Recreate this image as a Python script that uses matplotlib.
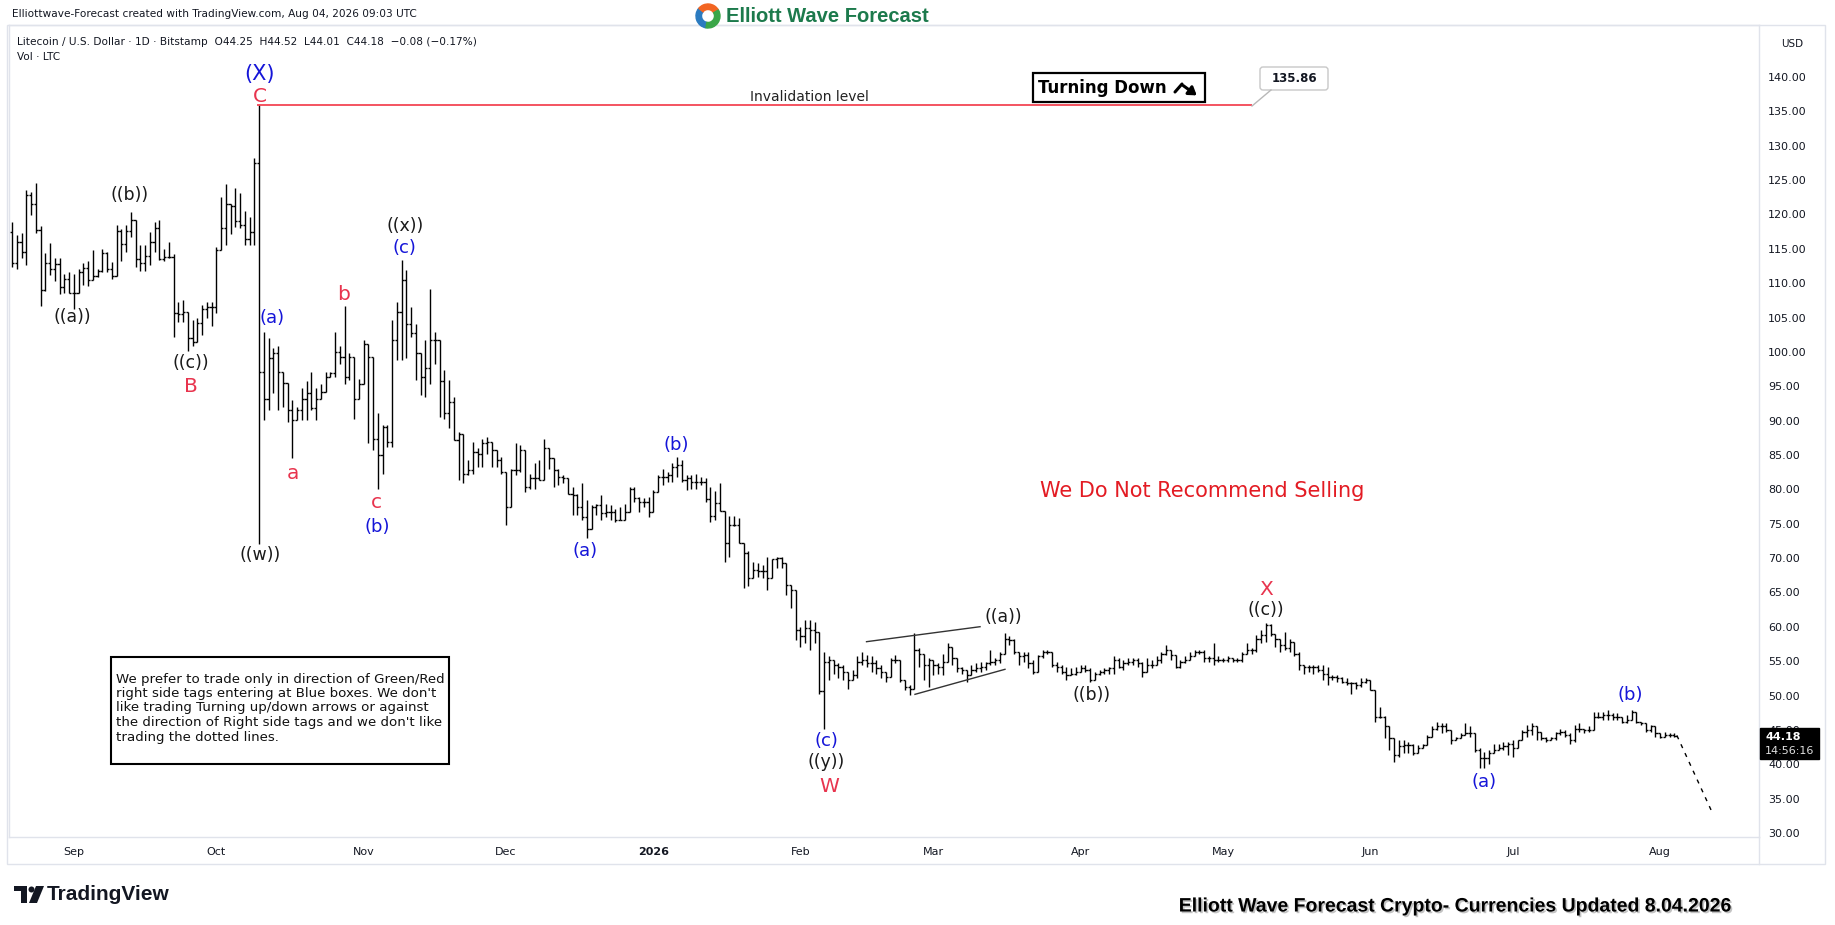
import numpy as np
import pandas as pd
import matplotlib
matplotlib.use("Agg")
import matplotlib.pyplot as plt
import matplotlib.dates as mdates
from matplotlib.patches import Rectangle, FancyBboxPatch, Wedge, Polygon, Circle
import matplotlib.patheffects as pe

W, H = 1835, 925
start_date = "2025-08-19"

# ---------------- daily LTC/USD bars ----------------
highs = [
    118.9, 117.0, 117.3, 123.6, 123.3, 124.6, 118.3, 114.4, 115.8, 113.7,
    113.6, 111.3, 111.7, 111.3, 112.0, 112.9, 113.2, 114.8, 112.1, 115.0,
    114.6, 113.1, 118.4, 117.9, 118.4, 120.4, 119.2, 115.5, 115.6, 117.5,
    118.9, 119.2, 115.0, 116.0, 114.3, 107.3, 107.5, 105.6, 104.6, 104.9,
    106.8, 107.3, 107.3, 115.2, 122.6, 124.5, 121.2, 123.8, 123.1,
    120.5, 119.7, 128.2, 135.86,
    102.9, 102.0, 100.5, 100.8, 96.9, 93.0, 93.0, 92.0, 94.7, 95.7,
    97.1, 94.8, 95.4, 97.1, 97.1, 102.9, 100.8, 106.7, 99.8, 95.9,
    96.1, 101.8, 99.8, 91.5, 91.1, 89.4, 89.4, 104.6, 107.3, 113.4,
    111.9, 106.6, 104.1, 97.6, 101.7, 109.2, 102.9, 97.6, 97.4, 95.9,
    93.5, 88.4,
    83.8, 84.3, 86.9, 86.0, 87.4, 87.6, 86.7, 84.5, 84.7, 82.3,
    83.0, 86.7, 86.4, 84.3, 82.3, 83.8, 84.3, 87.4, 86.0, 84.3,
    83.0, 82.1, 81.3, 80.4, 79.4, 80.9, 78.4, 77.7, 77.9, 79.2,
    77.9, 77.7, 77.2, 77.5, 77.9, 80.4, 80.4, 78.9, 78.7, 78.9,
    79.9, 82.1, 83.0, 82.6, 83.8, 84.7, 84.3, 82.1, 82.1, 82.3, 81.8,
    81.6, 80.4, 79.7, 80.9, 76.8, 76.1, 76.1, 75.8, 72.2, 71.0,
    69.5, 69.3, 69.0, 70.2, 69.8, 70.2, 70.2, 69.3, 66.1, 65.4,
    60.0, 61.0, 61.0, 60.7, 59.1,
    56.4, 55.7, 54.9, 54.7, 54.4, 53.5, 53.7, 55.7, 56.4, 55.9,
    55.7, 55.2, 54.4, 53.2, 55.4, 55.9, 54.9, 52.3, 51.5, 59.1,
    56.9, 55.4, 55.4, 55.2, 54.7, 56.1, 57.6, 56.6, 55.2, 54.2,
    53.7, 54.4, 54.7, 54.9, 54.9, 56.6, 55.4, 56.4, 59.1, 58.6,
    58.3, 56.4, 56.4, 56.4, 55.2, 55.9, 56.6, 56.6,
    56.4, 54.9, 54.4, 54.2, 54.0, 54.2, 54.4, 54.4, 54.0, 53.5,
    53.7, 54.0, 54.2, 55.7, 55.4, 55.2, 55.4, 55.4, 55.4, 54.9,
    55.4, 55.2, 55.7, 56.4, 57.4, 56.6, 55.9, 55.2, 55.7, 56.4,
    56.6, 56.6, 56.6, 55.7, 57.6, 55.7, 55.4, 55.7, 55.4, 55.4,
    56.4, 57.6, 56.9, 58.8,
    59.5, 60.5, 60.4, 58.6, 58.3, 59.3, 58.3, 57.4, 56.4, 54.4,
    54.4, 54.4, 54.4, 54.4, 54.2, 53.0, 53.0, 52.7, 52.5, 52.0,
    52.0, 52.5, 52.5, 52.3,
    50.8, 48.4, 47.0, 45.5, 43.8, 43.5, 43.5, 43.3, 43.0, 42.8,
    43.0, 44.3, 45.5, 46.2, 46.0, 46.0, 45.0, 44.0, 44.5, 46.0,
    45.5, 44.5, 42.3, 41.8, 42.1, 43.0, 43.0, 43.3, 43.3, 43.5,
    43.5, 45.0, 45.7, 46.0, 45.5, 44.7, 44.0, 44.0, 44.7, 45.2,
    45.0, 44.5, 45.7, 46.0, 45.2, 45.5, 47.6, 47.6, 47.6, 47.9,
    47.4, 47.4, 46.9, 47.2, 47.9, 47.6, 46.2, 45.7, 45.7, 45.2,
    44.5, 44.7, 44.5, 44.52,
]
lows = [
    112.4, 112.0, 113.7, 112.6, 119.9, 117.3, 106.7, 108.9, 111.2, 110.3,
    108.4, 108.6, 108.6, 106.3, 108.9, 109.8, 109.6, 110.8, 110.9, 111.6,
    111.6, 110.6, 111.6, 113.2, 114.6, 116.7, 112.3, 111.8, 111.8, 112.6,
    114.6, 113.4, 113.3, 113.6, 102.2, 104.4, 104.4, 100.1, 100.9, 103.0,
    102.5, 104.9, 103.7, 105.6, 114.9, 115.5, 117.1, 118.2, 118.0,
    115.5, 115.6, 115.6, 72.0,
    90.1, 91.5, 94.0, 91.5, 92.0, 89.8, 84.5, 90.1, 90.1, 90.1,
    91.5, 90.1, 94.0, 95.4, 96.4, 96.4, 98.3, 95.4, 95.9, 90.3,
    93.2, 95.4, 86.7, 85.7, 80.1, 82.3, 86.2, 86.2, 98.8, 98.8,
    99.1, 102.2, 95.9, 93.7, 93.5, 95.4, 98.3, 90.6, 90.3, 88.9,
    87.2, 81.4,
    80.9, 82.1, 82.3, 83.3, 83.3, 85.2, 83.3, 83.3, 82.3, 74.8,
    77.5, 82.1, 82.6, 79.6, 80.1, 80.1, 81.3, 82.3, 83.0, 80.4,
    80.6, 80.9, 79.4, 76.2, 76.2, 75.5, 72.9, 75.0, 76.2, 75.5,
    76.0, 75.5, 75.3, 75.5, 75.5, 77.0, 78.2, 76.7, 77.5, 76.0,
    76.7, 79.6, 80.6, 81.1, 81.1, 81.8, 81.1, 79.9, 80.1, 80.1, 80.6,
    78.2, 75.3, 75.6, 76.8, 69.5, 70.2, 74.6, 72.2, 65.6, 65.9,
    67.1, 67.3, 67.1, 65.4, 67.8, 68.5, 68.5, 64.7, 62.7, 58.1,
    57.1, 57.6, 56.6, 57.6, 50.3,
    45.2, 52.3, 53.2, 52.5, 52.3, 51.0, 52.3, 52.5, 54.4, 54.2,
    53.5, 53.2, 52.5, 52.0, 52.7, 54.7, 52.0, 50.8, 50.1, 51.0,
    54.2, 52.3, 51.3, 53.0, 53.2, 53.0, 55.2, 54.4, 53.5, 53.2,
    52.0, 53.0, 53.5, 53.5, 53.7, 54.4, 54.4, 54.7, 56.1, 57.4,
    56.1, 54.4, 54.9, 54.0, 53.2, 54.4, 55.4, 56.1,
    54.2, 53.5, 53.2, 52.3, 53.0, 53.0, 53.5, 53.5, 52.0, 52.3,
    53.0, 53.2, 53.2, 53.2, 54.0, 53.7, 54.4, 54.4, 54.2, 52.7,
    54.0, 54.0, 54.4, 54.7, 55.9, 55.2, 54.0, 54.0, 54.7, 55.2,
    55.9, 56.1, 54.9, 54.9, 54.4, 54.9, 54.9, 54.9, 54.9, 54.9,
    54.9, 56.1, 56.1, 56.4,
    57.6, 57.8, 58.7, 57.1, 56.4, 56.6, 56.4, 55.7, 53.7, 53.2,
    53.5, 53.2, 53.5, 52.3, 51.5, 52.3, 52.0, 51.8, 51.5, 50.3,
    51.0, 51.3, 51.8, 50.8,
    46.2, 46.7, 43.8, 42.1, 40.4, 41.1, 41.6, 41.6, 41.4, 41.8,
    42.3, 42.8, 44.0, 45.0, 44.5, 44.7, 43.0, 43.5, 43.8, 44.3,
    44.0, 41.8, 39.4, 39.4, 40.1, 41.8, 42.1, 42.1, 41.4, 41.1,
    43.0, 43.5, 44.0, 44.3, 43.5, 43.5, 43.3, 43.5, 43.5, 44.3,
    44.0, 43.0, 43.3, 44.7, 44.5, 44.7, 45.0, 46.7, 46.4, 46.4,
    46.4, 46.4, 46.0, 46.0, 46.4, 46.0, 45.7, 44.7, 44.7, 44.0,
    43.8, 44.0, 44.0, 44.01,
]
closes = [
    113.0, 116.0, 114.5, 122.8, 121.5, 117.8, 109.0, 113.0, 112.0, 112.8,
    109.4, 110.6, 108.6, 108.6, 111.6, 112.2, 110.5, 111.0, 111.8, 114.4,
    112.0, 111.1, 117.6, 115.7, 117.6, 119.2, 113.5, 113.0, 114.0, 116.0,
    118.0, 113.5, 113.8, 113.8, 105.6, 105.5, 105.8, 102.0, 101.5, 104.2,
    106.2, 106.5, 106.6, 114.8, 118.0, 121.5, 121.2, 119.0, 118.5,
    116.5, 117.5, 127.5, 97.1,
    93.2, 99.1, 99.8, 97.1, 95.5, 91.5, 90.1, 91.6, 93.2, 94.0,
    91.8, 93.2, 94.1, 96.4, 96.9, 100.0, 99.3, 96.4, 99.3, 93.2,
    95.4, 101.2, 99.3, 87.4, 85.0, 89.1, 86.9, 101.7, 105.8, 110.5,
    104.1, 102.7, 99.8, 96.4, 97.6, 101.7, 101.7, 95.7, 91.1, 92.7,
    87.2, 88.1,
    82.3, 82.8, 85.5, 85.2, 86.7, 86.9, 85.7, 84.3, 82.6, 77.5,
    82.8, 82.8, 85.7, 80.4, 81.6, 81.6, 81.3, 86.0, 84.5, 82.8,
    81.8, 81.6, 79.4, 79.2, 77.5, 76.0, 74.3, 77.5, 77.7, 76.5,
    76.7, 76.7, 75.5, 75.5, 76.7, 80.1, 78.7, 78.2, 78.2, 76.7,
    79.6, 81.8, 81.8, 82.1, 83.3, 83.5, 81.3, 81.6, 81.1, 81.1, 81.1,
    78.6, 76.1, 78.0, 76.8, 72.2, 74.8, 74.8, 72.2, 70.7, 67.1,
    68.3, 68.1, 68.1, 67.1, 69.8, 70.0, 69.3, 66.1, 65.4, 59.6,
    58.6, 59.8, 59.5, 59.3, 50.6,
    54.9, 55.2, 54.4, 54.2, 53.5, 52.3, 53.0, 54.9, 55.2, 54.7,
    54.7, 54.0, 53.5, 52.7, 55.2, 55.2, 52.3, 51.3, 51.0, 56.6,
    56.1, 54.4, 55.2, 54.4, 54.2, 54.9, 57.1, 55.4, 54.0, 53.7,
    53.0, 53.7, 54.0, 54.2, 54.7, 54.9, 55.2, 56.1, 58.3, 58.1,
    56.4, 55.7, 55.9, 54.7, 53.5, 55.7, 56.4, 56.4,
    54.4, 54.2, 53.5, 53.0, 53.2, 53.5, 54.0, 53.7, 52.3, 53.2,
    53.5, 53.7, 54.0, 55.2, 54.2, 54.7, 54.9, 55.2, 54.7, 53.5,
    54.4, 54.4, 55.2, 56.1, 56.6, 55.9, 54.2, 54.9, 55.2, 55.7,
    56.4, 56.4, 55.4, 55.4, 55.2, 55.2, 55.2, 55.4, 55.2, 55.2,
    56.1, 56.6, 56.6, 58.3,
    58.8, 60.3, 59.0, 58.3, 57.4, 56.9, 57.8, 56.1, 54.4, 54.2,
    54.2, 54.2, 53.7, 53.2, 52.7, 52.7, 52.5, 52.0, 51.8, 51.8,
    51.5, 52.0, 52.3, 50.8,
    46.9, 46.9, 45.5, 43.8, 41.4, 42.6, 42.8, 42.8, 41.6, 42.3,
    42.8, 44.0, 45.2, 45.5, 45.5, 45.0, 43.5, 43.8, 44.3, 44.5,
    44.5, 42.1, 40.9, 40.9, 41.6, 42.1, 42.3, 42.6, 43.0, 42.3,
    43.5, 44.7, 45.0, 45.5, 44.7, 43.8, 43.5, 43.8, 44.5, 44.7,
    44.3, 43.5, 45.2, 45.2, 45.0, 45.0, 46.9, 46.9, 47.2, 47.2,
    46.9, 46.9, 46.2, 46.4, 47.6, 46.2, 46.0, 45.0, 45.5, 44.5,
    44.0, 44.3, 44.3, 44.18,
]
first_open = 117.5
last_open = 44.25

invalidation_level = 135.86
price_ticks = list(range(30, 145, 5))
month_starts = pd.date_range("2025-09-01", "2026-08-01", freq="MS")
month_labels = ["Sep", "Oct", "Nov", "Dec", "2026", "Feb", "Mar", "Apr", "May", "Jun", "Jul", "Aug"]

# wave labels: (text, bar index, price, kind)
wave_labels = [
    ("(X)", 52.2, 140.4, "blueL"), ("C", 52.2, 137.1, "red"),
    ("((b))", 24.8, 122.8, "black"), ("((a))", 12.8, 105.1, "black"),
    ("((c))", 37.7, 98.4, "black"), ("B", 37.7, 94.9, "red"),
    ("(a)", 54.7, 104.9, "blue"), ("b", 69.9, 108.4, "red"),
    ("a", 59.2, 82.3, "red"), ("((x))", 82.7, 118.3, "black"),
    ("(c)", 82.7, 115.1, "blue"), ("c", 76.8, 78.1, "red"),
    ("(b)", 76.8, 74.5, "blue"), ("((w))", 52.2, 70.5, "black"),
    ("(b)", 139.8, 86.5, "blue"), ("(a)", 120.6, 71.0, "blue"),
    ("((a))", 208.6, 61.4, "black"), ("((b))", 227.2, 50.1, "black"),
    ("X", 264.0, 65.5, "red"), ("((c))", 264.0, 62.4, "black"),
    ("(c)", 171.4, 43.4, "blue"), ("((y))", 171.4, 40.3, "black"),
    ("W", 172.0, 36.8, "red"), ("(b)", 340.6, 50.1, "blue"),
    ("(a)", 309.9, 37.4, "blue"),
]
triangle_upper = [(179.9, 57.84), (203.8, 60.02)]
triangle_lower = [(190.1, 50.18), (209.05, 53.82)]
projection = [(350.5, 44.2), (357.7, 33.35)]

note_lines = [
    "We prefer to trade only in direction of Green/Red",
    "right side tags entering at Blue boxes. We don't",
    "like trading Turning up/down arrows or against",
    "the direction of Right side tags and we don't like",
    "trading the dotted lines.",
]

# ---------------- figure ----------------
fig = plt.figure(figsize=(W / 100, H / 100), dpi=100)
fig.patch.set_facecolor("white")

PANE_L, PANE_R, PANE_T, PANE_B = 9, 1759, 25, 837
ax = fig.add_axes([PANE_L / W, 1 - PANE_B / H, (PANE_R - PANE_L) / W, (PANE_B - PANE_T) / H])

dates = pd.date_range(start_date, periods=len(closes), freq="D")
x = mdates.date2num(dates)
x0 = x[0]
opens = np.array([first_open] + closes[:-2] + [last_open])
hi = np.array(highs)
lo = np.array(lows)
cl = np.array(closes)

ax.vlines(x, np.minimum(lo, opens), np.maximum(hi, opens), color="black", lw=1.0)
ax.hlines(opens, x - 0.45, x, color="black", lw=1.0)
ax.hlines(cl, x, x + 0.45, color="black", lw=1.0)

ax.set_xlim(x0 - 0.632, x0 + 367.79)
ax.set_ylim(140 - (PANE_B - 77) / 6.873, 140 + (77 - PANE_T) / 6.873)

# invalidation line
ax.hlines(invalidation_level, x0 + 51.6, x0 + 261.05, color="#f23645", lw=1.2)

# triangle lines
for seg in (triangle_upper, triangle_lower):
    ax.plot([x0 + seg[0][0], x0 + seg[1][0]], [seg[0][1], seg[1][1]], color="#333333", lw=1.0)

# projection dotted line
ax.plot([x0 + projection[0][0], x0 + projection[1][0]], [projection[0][1], projection[1][1]],
        color="black", lw=1.0, ls=(0, (3, 4)))

styles = {
    "black": dict(color="#1a1a1a", fontsize=12.5),
    "blue": dict(color="#1515d8", fontsize=13),
    "blueL": dict(color="#1515d8", fontsize=15),
    "red": dict(color="#e8344e", fontsize=14.5),
}
for txt, i, p, kind in wave_labels:
    ax.text(x0 + i, p, txt, ha="center", va="center", family="DejaVu Sans", **styles[kind])

# axes styling
for s in ax.spines.values():
    s.set_color("#e0e3eb")
    s.set_linewidth(1.0)
ax.yaxis.tick_right()
ax.set_yticks(price_ticks)
ax.set_yticklabels([f"{v:.2f}" for v in price_ticks])
ax.tick_params(axis="y", length=0, pad=6.5, labelsize=8, labelcolor="#131722")
ax.set_xticks(mdates.date2num(month_starts))
ax.set_xticklabels(month_labels)
ax.tick_params(axis="x", length=0, pad=7, labelsize=8, labelcolor="#131722")
for lbl in ax.get_xticklabels():
    if lbl.get_text() == "2026":
        lbl.set_fontweight("bold")

# ---------------- overlay in pixel coordinates ----------------
ov = fig.add_axes([0, 0, 1, 1])
ov.set_xlim(0, W)
ov.set_ylim(H, 0)
ov.axis("off")
ov.patch.set_alpha(0)

# frame
ov.add_patch(Rectangle((7, 25), 1825 - 7, 864 - 25, fill=False, ec="#e0e3eb", lw=1.0))
ov.plot([PANE_R, PANE_R], [PANE_B, 864], color="#e0e3eb", lw=1.0)

# header
ov.text(12, 14, "Elliottwave-Forecast created with TradingView.com, Aug 04, 2026 09:03 UTC",
        fontsize=7.6, color="#131722", va="center", ha="left")
ov.text(17, 42, "Litecoin / U.S. Dollar \u00b7 1D \u00b7 Bitstamp  O44.25  H44.52  L44.01  C44.18  \u22120.08 (\u22120.17%)",
        fontsize=7.6, color="#131722", va="center", ha="left")
ov.text(17, 57, "Vol \u00b7 LTC", fontsize=7.6, color="#131722", va="center", ha="left")
ov.text(1781, 44, "USD", fontsize=7.5, color="#131722", va="center", ha="left")

# Elliott Wave Forecast logo
cx, cy, r = 708, 16, 12
ov.add_patch(Wedge((cx, cy), r, 100, 220, width=5.5, color="#2b7bc0"))
ov.add_patch(Wedge((cx, cy), r, 220, 330, width=5.5, color="#f26522"))
ov.add_patch(Wedge((cx, cy), r, 330, 100, width=5.5, color="#3aa648"))
ov.text(726, 17, "Elliott Wave Forecast", fontsize=14.5, fontweight="bold", color="#1c7a4c",
        family="Liberation Sans", va="center", ha="left")

# invalidation texts
ov.text(809, 97, "Invalidation level", fontsize=10, color="#222222", ha="center", va="center")
ov.plot([1252, 1271], [106, 90], color="#b8b8b8", lw=1.0)
ov.add_patch(FancyBboxPatch((1260, 67), 68, 23, boxstyle="round,pad=0,rounding_size=3",
                            fc="white", ec="#c8c8c8", lw=1.0))
ov.text(1294, 78.5, "135.86", fontsize=8.5, fontweight="bold", color="#131722", ha="center", va="center")

# Turning Down box
ov.add_patch(Rectangle((1033, 73), 172, 29, fill=True, fc="white", ec="black", lw=1.6))
ov.text(1038, 88, "Turning Down", fontsize=12, fontweight="bold", color="black", ha="left", va="center")
ov.plot([1175, 1182], [92, 84], color="black", lw=2.2, solid_capstyle="round")
ov.annotate("", xy=(1199, 97), xytext=(1181, 84),
            arrowprops=dict(arrowstyle="-|>,head_length=0.45,head_width=0.3", color="black", lw=2.2))

# recommendation
ov.text(1202, 491, "We Do Not Recommend Selling", fontsize=15, color="#e31b23", ha="center", va="center")

# note box
ov.add_patch(Rectangle((111, 657), 338, 107, fc="white", ec="black", lw=1.5))
for k, line in enumerate(note_lines):
    ov.text(116, 679 + k * 14.5, line, fontsize=9.6, family="DejaVu Sans", color="#111111",
            ha="left", va="center")

# last price tag
ov.add_patch(Rectangle((1760, 728), 59, 31, fc="black", ec="black"))
ov.text(1765, 737.5, "44.18", fontsize=8, fontweight="bold", color="white", ha="left", va="center")
ov.text(1765, 751, "14:56:16", fontsize=8, color="#e0e0e0", ha="left", va="center")

# TradingView logo
ov.add_patch(Polygon([(14, 886), (27, 886), (27, 903), (21, 903), (21, 891), (14, 891)], closed=True,
                     fc="#131722", ec="none"))
ov.add_patch(Circle((31.5, 889.5), 3.0, fc="#131722", ec="none"))
ov.add_patch(Polygon([(36, 886), (44, 886), (37, 903), (29, 903)], closed=True, fc="#131722", ec="none"))
ov.text(47, 894.5, "TradingView", fontsize=15, fontweight="bold", color="#131722",
        family="Liberation Sans", ha="left", va="center")

# bottom right caption
ov.text(1732, 907, "Elliott Wave Forecast Crypto- Currencies Updated 8.04.2026", fontsize=14,
        fontweight="bold", family="Liberation Sans", color="black", ha="right", va="center",
        path_effects=[pe.withSimplePatchShadow(offset=(1.2, -1.2), shadow_rgbFace="#888888", alpha=0.5)])

fig.savefig("out.png", dpi=100, facecolor="white")
